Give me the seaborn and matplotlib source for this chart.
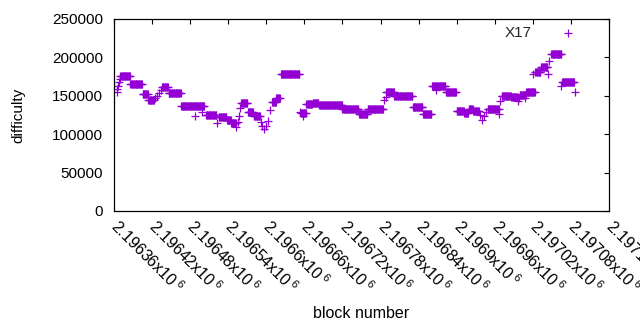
import numpy as np
import pandas as pd
import matplotlib
matplotlib.use("Agg")
import matplotlib.pyplot as plt
import seaborn as sns

# runs of blocks with (nearly) the same difficulty
run_start = [2196370, 2196386, 2196405, 2196414, 2196436, 2196446, 2196466, 2196505,
             2196525, 2196538, 2196545, 2196560, 2196571, 2196580, 2196609, 2196616,
             2196623, 2196655, 2196663, 2196673, 2196683, 2196720, 2196746, 2196760,
             2196789, 2196802, 2196831, 2196847, 2196861, 2196883, 2196900, 2196912,
             2196919, 2196926, 2196949, 2196971, 2196986, 2196999, 2197010, 2197024,
             2197033, 2197049, 2197066]
run_end = [2196385, 2196404, 2196413, 2196423, 2196445, 2196465, 2196502, 2196521,
           2196537, 2196544, 2196552, 2196570, 2196579, 2196590, 2196615, 2196621,
           2196652, 2196662, 2196672, 2196682, 2196719, 2196745, 2196759, 2196784,
           2196801, 2196830, 2196846, 2196860, 2196882, 2196899, 2196911, 2196918,
           2196925, 2196935, 2196966, 2196985, 2196996, 2197009, 2197023, 2197032,
           2197043, 2197065, 2197085]
run_diff = [175400, 165000, 152000, 144000, 162000, 153000, 136300, 124600,
            122000, 119000, 114600, 140000, 129000, 123700, 142000, 146700,
            178000, 127000, 139000, 141000, 137600, 132400, 126700, 133200,
            155000, 149500, 135000, 125700, 163000, 154500, 130600, 128000,
            132400, 130500, 132800, 150000, 148800, 151000, 155400, 181400,
            187000, 204000, 168400]

# single blocks off the runs
pt_block = [2196364, 2196365, 2196367, 2196368, 2196369, 2196425, 2196428, 2196431,
            2196434, 2196488, 2196499, 2196523, 2196553, 2196555, 2196557, 2196559,
            2196591, 2196594, 2196597, 2196600, 2196603, 2196606, 2196653, 2196658,
            2196786, 2196788, 2196867, 2196936, 2196940, 2196943, 2196946, 2196967,
            2196969, 2196997, 2196998, 2197007, 2197020, 2197044, 2197046, 2197064,
            2197086]
pt_diff = [155000, 158500, 163000, 168000, 171500, 147000, 150000, 154000,
           158000, 124000, 129000, 114000, 109000, 116000, 123500, 133500,
           116000, 111000, 107000, 111000, 117000, 131500, 129000, 123500,
           144500, 148800, 157500, 125000, 119000, 124000, 129000, 126000,
           143500, 143500, 146700, 146700, 178000, 179000, 195700, 163000,
           155400]

blocks = list(pt_block)
diffs = list(pt_diff)
for a, b, d in zip(run_start, run_end, run_diff):
    for blk in range(a, b + 1):
        blocks.append(blk)
        diffs.append(d)
df = pd.DataFrame({"block": blocks, "difficulty": diffs}).sort_values("block")

sns.set_theme(style="white")
plt.rcParams['font.family'] = ['Liberation Sans', 'DejaVu Sans']
plt.rcParams['mathtext.fontset'] = 'custom'
plt.rcParams['mathtext.rm'] = 'Liberation Sans'
plt.rcParams['mathtext.it'] = 'Liberation Sans'

fig = plt.figure(figsize=(6.4, 3.3), dpi=100)
ax = fig.add_axes([114/640, 1 - 211/330, 495/640, 192/330])

sns.scatterplot(data=df, x="block", y="difficulty", marker="+", color="#9400D3",
                s=28, linewidth=0.9, label="X17", ax=ax)

ax.set_xlim(2196360, 2197140)
ax.set_ylim(0, 250000)
xt = np.arange(2196360, 2197141, 60)
ax.set_xticks(xt)
ax.set_xticklabels([r"%sx10$\,^{6}$" % (("%.5f" % (v / 1e6)).rstrip("0")) for v in xt],
                   rotation=-45, ha="left", va="center", rotation_mode="anchor",
                   fontsize=11.5)
ax.set_yticks(np.arange(0, 250001, 50000))
ax.tick_params(direction="in", length=3.5, width=0.8, top=True, right=True,
               colors="black")
ax.tick_params(axis="x", pad=9)
ax.tick_params(axis="y", pad=8, labelsize=11)
for s in ax.spines.values():
    s.set_color("black")
    s.set_linewidth(0.9)

ax.set_xlabel("block number", fontsize=11.5, color="black", labelpad=7)
ax.set_ylabel("difficulty", fontsize=11, color="black", labelpad=19)

ax.legend(loc="upper right", bbox_to_anchor=(0.961, 0.995), borderaxespad=0,
          markerfirst=False, frameon=False, handlelength=2, handletextpad=1.4,
          fontsize=11)

fig.savefig("out.png", dpi=100)
